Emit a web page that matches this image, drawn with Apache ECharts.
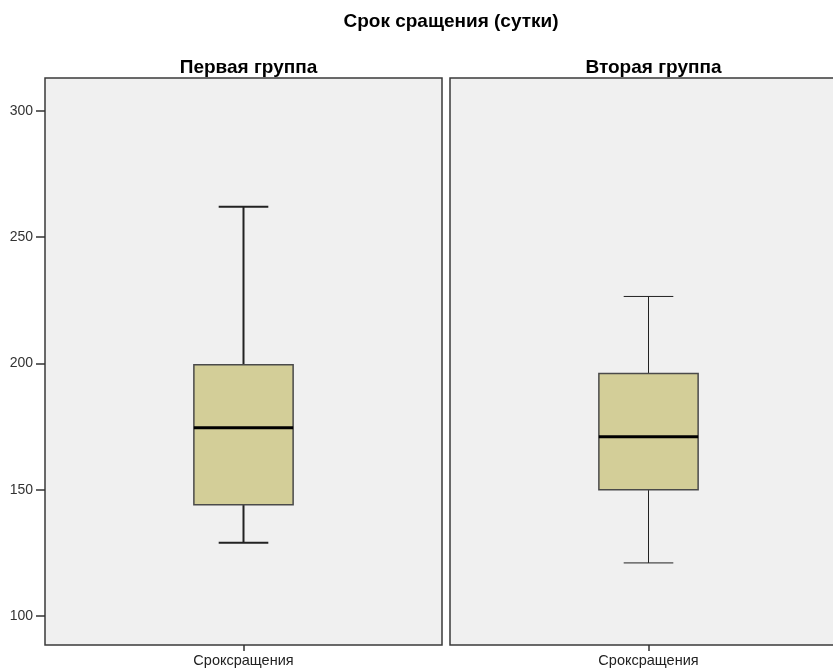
<!DOCTYPE html>
<html><head><meta charset="utf-8">
<script src="https://cdn.jsdelivr.net/npm/echarts@6/dist/echarts.min.js"></script>
<style>html,body{margin:0;padding:0;background:#fff}#c{width:833px;height:671px}</style>
</head><body><div id="c"></div>
<script>
const title = 'Срок сращения (сутки)';
const groups = ['Первая группа', 'Вторая группа'];
const xCategory = ['Сроксращения'];
const mins = [129, 121];
const q1s = [144, 150];
const medians = [174.5, 171];
const q3s = [199.5, 196];
const maxs = [262, 226.5];
const yTicks = [100, 150, 200, 250, 300];
const yMin = 88.5, yMax = 313;

const chart = echarts.init(document.getElementById('c'));
const panelLeft = [45, 450];
const panelRight = [391, -14];
const whiskerW = [2, 1];
const FF = 'Liberation Sans, Arial';

function renderBox(gi) {
  return function (params, api) {
    const x = api.value(0);
    const cMin = api.coord([x, api.value(1)]);
    const cQ1 = api.coord([x, api.value(2)]);
    const cMed = api.coord([x, api.value(3)]);
    const cQ3 = api.coord([x, api.value(4)]);
    const cMax = api.coord([x, api.value(5)]);
    const bw = api.size([1, 0])[0] * 0.25;
    const cx = cMed[0];
    const lw = whiskerW[gi];
    const wl = { stroke: '#222', lineWidth: lw };
    return {
      type: 'group',
      children: [
        { type: 'line', shape: { x1: cx, y1: cMax[1], x2: cx, y2: cQ3[1] }, style: wl },
        { type: 'line', shape: { x1: cx, y1: cQ1[1], x2: cx, y2: cMin[1] }, style: wl },
        { type: 'line', shape: { x1: cx - bw / 4, y1: cMax[1], x2: cx + bw / 4, y2: cMax[1] }, style: wl },
        { type: 'line', shape: { x1: cx - bw / 4, y1: cMin[1], x2: cx + bw / 4, y2: cMin[1] }, style: wl },
        { type: 'rect', shape: { x: cx - bw / 2, y: cQ3[1], width: bw, height: cQ1[1] - cQ3[1] },
          style: { fill: '#d3ce98', stroke: '#4a4a4a', lineWidth: 1.5 } },
        { type: 'line', shape: { x1: cx - bw / 2, y1: cMed[1], x2: cx + bw / 2, y2: cMed[1] },
          style: { stroke: '#000', lineWidth: 3 } }
      ]
    };
  };
}

const grids = [], xAxes = [], yAxes = [], series = [], titles = [];
titles.push({ text: title, left: 446, top: 7, textAlign: 'center',
  textStyle: { fontFamily: FF, fontSize: 19, fontWeight: 'bold', color: '#000' } });
const centers = [243.5, 648.5];
for (let g = 0; g < 2; g++) {
  grids.push({ left: panelLeft[g], right: panelRight[g], top: 78, bottom: 26, show: true,
    outerBoundsMode: 'none', containLabel: false,
    backgroundColor: '#f0f0f0', borderColor: '#3a3a3a', borderWidth: 1.5 });
  titles.push({ text: groups[g], left: centers[g], top: 53, textAlign: 'center',
    textStyle: { fontFamily: FF, fontSize: 19, fontWeight: 'bold', color: '#000' } });
  xAxes.push({ type: 'category', gridIndex: g, data: xCategory,
    axisLine: { show: false },
    axisTick: { show: true, alignWithLabel: true, length: 6, lineStyle: { color: '#333', width: 1.5 } },
    axisLabel: { margin: 8, fontFamily: FF, fontSize: 14.5, color: '#222' } });
  yAxes.push({ type: 'value', gridIndex: g, min: yMin, max: yMax,
    splitLine: { show: false },
    axisLine: { show: false },
    axisTick: { show: g === 0, length: 9, customValues: yTicks, lineStyle: { color: '#333', width: 1.5 } },
    axisLabel: { show: g === 0, customValues: yTicks, margin: 12, fontFamily: FF, fontSize: 14, color: '#333' } });
  series.push({ type: 'custom', xAxisIndex: g, yAxisIndex: g, renderItem: renderBox(g),
    data: [[0, mins[g], q1s[g], medians[g], q3s[g], maxs[g]]] });
}

chart.setOption({
  animation: false,
  title: titles,
  grid: grids,
  xAxis: xAxes,
  yAxis: yAxes,
  series: series
});
</script></body></html>
